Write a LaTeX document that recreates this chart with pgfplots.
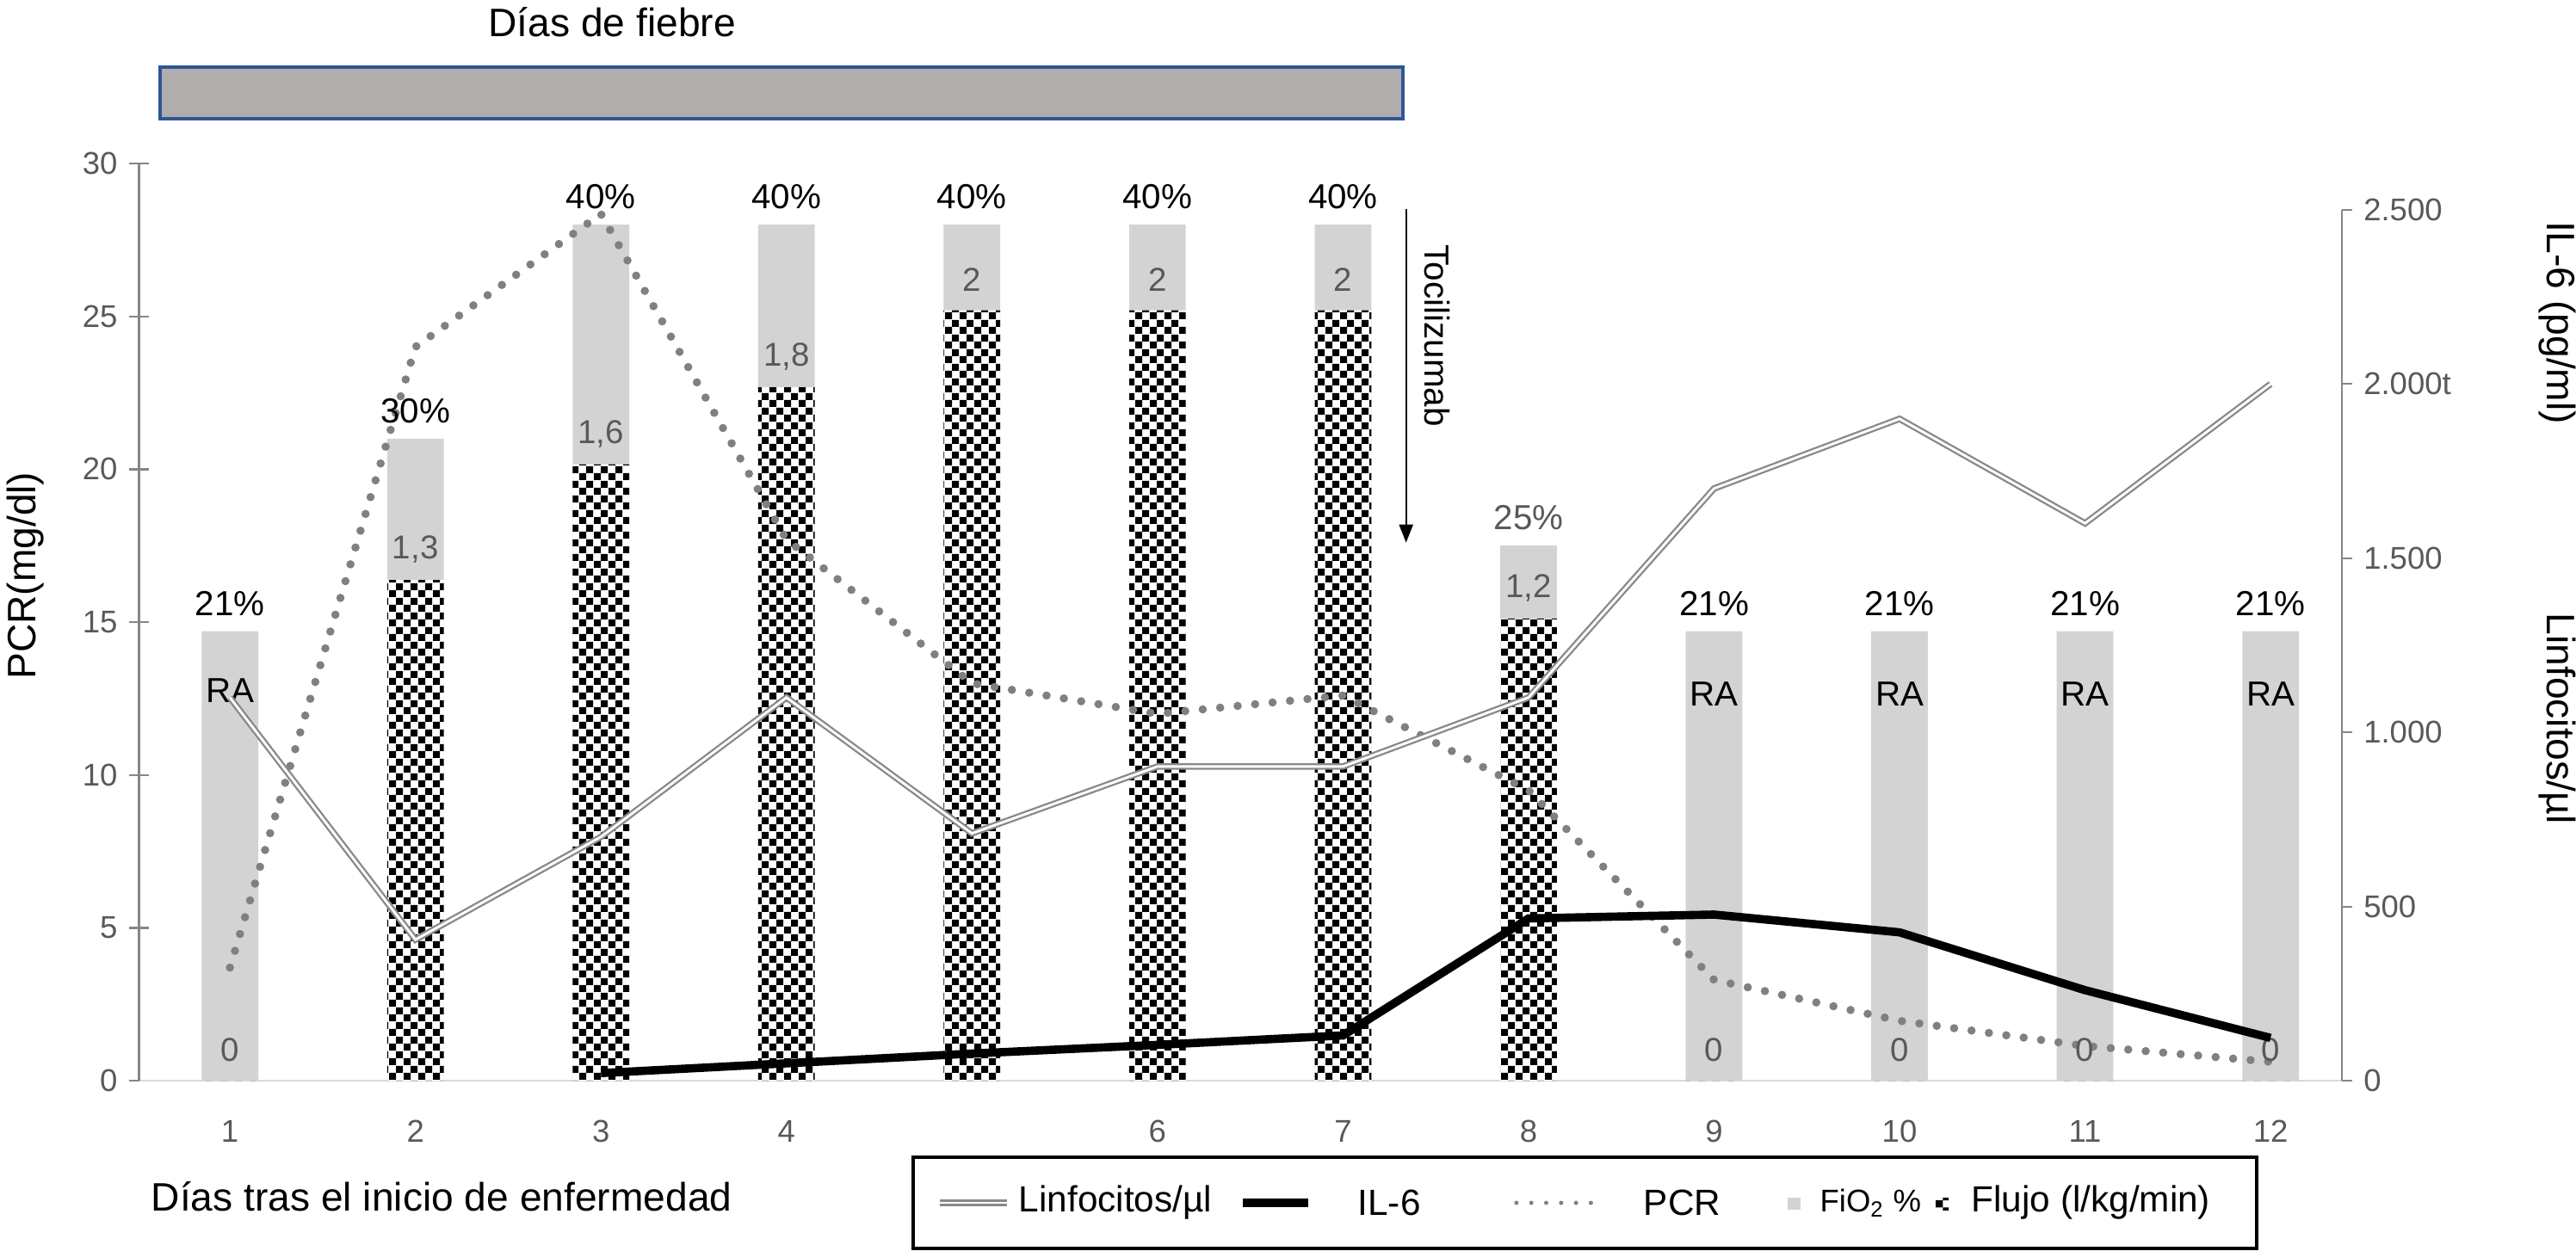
\documentclass[border=0pt]{standalone}
\usepackage{fontspec}
\setmainfont{Liberation Sans}
\usepackage{pgfplots}
\pgfplotsset{compat=1.18}
\usetikzlibrary{patterns,arrows.meta}

\definecolor{bargray}{RGB}{211,211,211}
\definecolor{feverfill}{RGB}{178,173,173}
\definecolor{feverblue}{RGB}{47,85,151}
\definecolor{tickgray}{RGB}{89,89,89}
\definecolor{axisgray}{RGB}{134,134,134}
\definecolor{xaxisgray}{RGB}{217,217,217}
\definecolor{pcrgray}{RGB}{128,128,128}
\definecolor{lymphgray}{RGB}{137,137,137}

% fine checkerboard, 2.15pt squares
\pgfdeclarepatternformonly{finechecker}{\pgfpointorigin}{\pgfqpoint{4.3pt}{4.3pt}}{\pgfqpoint{4.3pt}{4.3pt}}{
  \pgfpathrectangle{\pgfpointorigin}{\pgfqpoint{2.15pt}{2.15pt}}
  \pgfpathrectangle{\pgfqpoint{2.15pt}{2.15pt}}{\pgfqpoint{2.15pt}{2.15pt}}
  \pgfusepath{fill}
}

\pgfplotsset{
  common/.style={
    at={(0pt,0pt)}, anchor=south west,
    scale only axis, width=665.5pt,
    xmin=0.51, xmax=12.385,
    clip=false,
    tick label style={font=\fontsize{9.5}{11}\selectfont, text=tickgray},
    /pgf/number format/assume math mode=true,
  },
}

\begin{document}
\begin{tikzpicture}
\useasboundingbox (-42.0pt,-51.2pt) rectangle (736.2pt,326.6pt);

% left axis: PCR and the respiratory support bars
\begin{axis}[
  common,
  height=277.2pt,
  ymin=0, ymax=30,
  axis x line*=bottom, axis y line*=left,
  x axis line style={draw=xaxisgray, line width=0.6pt, -},
  y axis line style={draw=axisgray, line width=0.6pt, -},
  xtick={1,2,3,4,5,6,7,8,9,10,11,12},
  xticklabels={1,2,3,4,,6,7,8,9,10,11,12},
  x tick style={draw=none},
  xticklabel style={yshift=-5.5pt},
  ytick={0,5,10,15,20,25,30},
  y tick style={draw=axisgray, line width=0.6pt},
  tick align=center, major tick length=6pt,
]
% FiO2 (bar height = FiO2 x 0.7)
\addplot[ybar, bar width=0.305, bar shift=0pt, fill=bargray, draw=none,
  nodes near coords, point meta=explicit symbolic,
  every node near coord/.append style={anchor=center, yshift=8.5pt,
    font=\fontsize{10.5}{12}\selectfont, text=black}]
  coordinates {
  (1,14.7) [21\%] (2,21) [30\%] (3,28) [40\%] (4,28) [40\%]
  (5,28) [40\%] (6,28) [40\%] (7,28) [40\%]
  (8,17.5) [\textcolor{tickgray}{25\%}]
  (9,14.7) [21\%] (10,14.7) [21\%] (11,14.7) [21\%] (12,14.7) [21\%]
  };
% Flujo (bar height = flujo x 12.6)
\addplot[ybar, bar width=0.305, bar shift=0pt, fill=white, draw=none,
  postaction={pattern=finechecker, pattern color=black},
  nodes near coords, point meta=explicit symbolic,
  every node near coord/.append style={anchor=center, yshift=9.2pt,
    font=\fontsize{10}{12}\selectfont, text=tickgray}]
  coordinates {
  (1,0) [0] (2,16.38) [1,3] (3,20.16) [1,6] (4,22.68) [1,8]
  (5,25.2) [2] (6,25.2) [2] (7,25.2) [2] (8,15.12) [1,2]
  (9,0) [0] (10,0) [0] (11,0) [0] (12,0) [0]
  };
% RA = room air
\addplot[draw=none, nodes near coords, point meta=explicit symbolic,
  every node near coord/.append style={anchor=center,
    font=\fontsize{10.5}{12}\selectfont, text=black}]
  coordinates {(1,12.75) [RA] (9,12.65) [RA] (10,12.65) [RA] (11,12.65) [RA] (12,12.65) [RA]};
% PCR
\addplot[pcrgray, line width=2.5pt, line cap=round, dash pattern=on 0pt off 5.3pt]
  coordinates {
  (1,3.7) (2,24.0) (3,28.35) (4,17.7) (5,13.0) (6,12.0)
  (7,12.6) (8,9.5) (9,3.3) (10,1.96) (11,1.14) (12,0.62)
  };
\draw[-{Triangle[length=5.5pt,width=4.2pt]}, line width=0.5pt]
  (axis cs:7.34,28.5) -- (axis cs:7.34,17.6);
\node[rotate=-90, font=\fontsize{10.5}{12}\selectfont] at (axis cs:7.507,24.37) {Tocilizumab};
\end{axis}

% right axis: lymphocytes and IL-6
\begin{axis}[
  common,
  height=263.2pt,
  ymin=0, ymax=2500,
  axis x line=none, axis y line*=right,
  y axis line style={draw=axisgray, line width=0.6pt, -},
  y tick style={draw=axisgray, line width=0.6pt},
  ytick={0,500,1000,1500,2000,2500},
  yticklabels={0,500,1.000,1.500,2.000t,2.500},
  tick align=outside, major tick length=3pt,
]
\addplot[draw=lymphgray, line width=0.6pt, double=white, double distance=0.75pt]
  coordinates {
  (1,1100) (2,405) (3,700) (4,1100) (5,710) (6,902)
  (7,902) (8,1100) (9,1700) (10,1900) (11,1600) (12,2000)
  };
\addplot[black, line width=2.5pt]
  coordinates {
  (3,22) (4,50) (5,78) (6,103) (7,130) (8,466)
  (9,477) (10,426) (11,260) (12,123)
  };
\end{axis}

% fever days
\fill[feverfill] (6.37pt,290.7pt) rectangle (381.8pt,306.3pt);
\draw[feverblue, line width=1pt] (6.37pt,290.7pt) rectangle (381.8pt,306.3pt);
\node[anchor=base, font=\fontsize{12}{14}\selectfont] at (142.9pt,315.5pt) {Días de fiebre};

% axis titles
\node[rotate=90, font=\fontsize{12}{14}\selectfont] at (-34.2pt,152.6pt) {PCR(mg/dl)};
\node[anchor=base west, inner sep=0pt, font=\fontsize{12}{14}\selectfont] at (3.5pt,-39.3pt) {Días tras el inicio de enfermedad};
\node[rotate=-90, font=\fontsize{12}{14}\selectfont] at (730.5pt,229.1pt) {IL-6 (pg/ml)};
\node[rotate=-90, font=\fontsize{12}{14}\selectfont] at (730.5pt,109.5pt) {Linfocitos/µl};

% legend
\draw[black, line width=0.9pt] (233.9pt,-50.7pt) rectangle (639.7pt,-23.1pt);
\draw[lymphgray, line width=0.6pt, double=white, double distance=0.75pt] (241.9pt,-36.9pt) -- (262.2pt,-36.9pt);
\node[anchor=west, inner sep=0pt, font=\fontsize{11}{13}\selectfont] at (265.6pt,-36.9pt) {Linfocitos/µl};
\draw[black, line width=2.5pt] (333.4pt,-36.9pt) -- (353.2pt,-36.9pt);
\node[anchor=west, inner sep=0pt, font=\fontsize{11}{13}\selectfont] at (368.0pt,-36.9pt) {IL-6};
\draw[pcrgray, line width=1.3pt, line cap=round, dash pattern=on 0pt off 4.5pt] (416.1pt,-36.9pt) -- (438.8pt,-36.9pt);
\node[anchor=west, inner sep=0pt, font=\fontsize{11}{13}\selectfont] at (454.4pt,-36.9pt) {PCR};
\fill[bargray] (498.0pt,-39.0pt) rectangle (501.9pt,-35.4pt);
\node[anchor=west, inner sep=0pt, font=\fontsize{9.5}{11}\selectfont] at (507.6pt,-36.9pt) {FiO\textsubscript{2} \%};
\fill[white, postaction={pattern=finechecker, pattern color=black}] (542.8pt,-39.0pt) rectangle (546.7pt,-35.4pt);
\node[anchor=west, inner sep=0pt, font=\fontsize{11}{13}\selectfont] at (553.4pt,-36.9pt) {Flujo (l/kg/min)};
\end{tikzpicture}
\end{document}
